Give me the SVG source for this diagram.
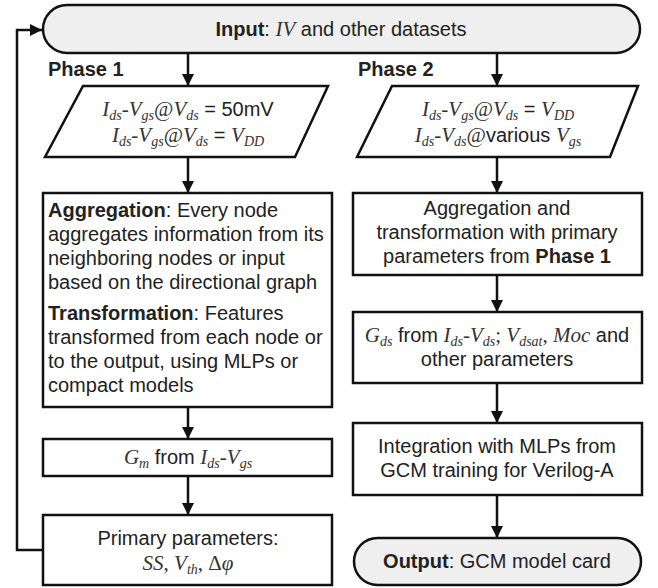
<svg xmlns="http://www.w3.org/2000/svg" width="658" height="588" viewBox="0 0 658 588">
<style>
.box{fill:#fff;stroke:#111;stroke-width:2.5}
.pill{fill:#efefef;stroke:#111;stroke-width:2.5}
.t{font-family:"Liberation Sans",Arial,sans-serif;font-size:20px;fill:#222}
.b{font-weight:bold}
.m{font-family:"Liberation Serif","Times New Roman",serif;font-style:italic;font-size:21px;fill:#333}
.r{font-family:"Liberation Serif","Times New Roman",serif;font-size:21px;fill:#333}
.s{font-family:"Liberation Serif","Times New Roman",serif;font-style:italic;font-size:14px;fill:#333}
.c{text-anchor:middle}
.line{fill:none;stroke:#111;stroke-width:2.5}
</style>
<defs>
<marker id="ah" viewBox="0 0 10 10" refX="10" refY="5" markerWidth="5" markerHeight="5" orient="auto" markerUnits="strokeWidth">
<path d="M0,0 L10,5 L0,10 z" fill="#111"/>
</marker>
</defs>

<g id="connectors">
<line class="line" x1="188" y1="53" x2="188" y2="86" marker-end="url(#ah)"/>
<line class="line" x1="497" y1="53" x2="497" y2="86" marker-end="url(#ah)"/>
<line class="line" x1="188" y1="157" x2="188" y2="193" marker-end="url(#ah)"/>
<line class="line" x1="497" y1="157" x2="497" y2="193" marker-end="url(#ah)"/>
<line class="line" x1="188" y1="407" x2="188" y2="439" marker-end="url(#ah)"/>
<line class="line" x1="188" y1="476" x2="188" y2="515" marker-end="url(#ah)"/>
<line class="line" x1="497" y1="275" x2="497" y2="312" marker-end="url(#ah)"/>
<line class="line" x1="497" y1="383" x2="497" y2="423" marker-end="url(#ah)"/>
<line class="line" x1="497" y1="495" x2="497" y2="538" marker-end="url(#ah)"/>
<polyline class="line" points="43,550 17,550 17,30 42,30" marker-end="url(#ah)"/>
</g>

<g id="input">
<rect class="pill" x="43" y="5" width="597" height="48" rx="24" ry="24"/>
<text class="t c" x="341" y="36"><tspan class="b">Input</tspan>: <tspan class="m">IV</tspan> and other datasets</text>
</g>

<g id="phase-labels">
<text class="t b" x="48" y="76">Phase 1</text>
<text class="t b" x="358" y="76">Phase 2</text>
</g>

<g id="p1-data">
<polygon class="box" points="83,86 328,86 295,157 45,157"/>
<text class="t c" x="188" y="116"><tspan class="m">I</tspan><tspan class="s" dy="4">ds</tspan><tspan class="r" dy="-4">-</tspan><tspan class="m">V</tspan><tspan class="s" dy="4">gs</tspan><tspan class="r" dy="-4">@</tspan><tspan class="m">V</tspan><tspan class="s" dy="4">ds</tspan><tspan dy="-4"> = 50mV</tspan></text>
<text class="t c" x="188" y="142"><tspan class="m">I</tspan><tspan class="s" dy="4">ds</tspan><tspan class="r" dy="-4">-</tspan><tspan class="m">V</tspan><tspan class="s" dy="4">gs</tspan><tspan class="r" dy="-4">@</tspan><tspan class="m">V</tspan><tspan class="s" dy="4">ds</tspan><tspan dy="-4"> = </tspan><tspan class="m">V</tspan><tspan class="s" dy="4">DD</tspan></text>
</g>

<g id="p2-data">
<polygon class="box" points="392,86 638,86 610,157 357,157"/>
<text class="t c" x="498" y="116"><tspan class="m">I</tspan><tspan class="s" dy="4">ds</tspan><tspan class="r" dy="-4">-</tspan><tspan class="m">V</tspan><tspan class="s" dy="4">gs</tspan><tspan class="r" dy="-4">@</tspan><tspan class="m">V</tspan><tspan class="s" dy="4">ds</tspan><tspan dy="-4"> = </tspan><tspan class="m">V</tspan><tspan class="s" dy="4">DD</tspan></text>
<text class="t c" x="498" y="142"><tspan class="m">I</tspan><tspan class="s" dy="4">ds</tspan><tspan class="r" dy="-4">-</tspan><tspan class="m">V</tspan><tspan class="s" dy="4">ds</tspan><tspan class="r" dy="-4">@</tspan><tspan>various </tspan><tspan class="m">V</tspan><tspan class="s" dy="4">gs</tspan></text>
</g>

<g id="p1-agg">
<rect class="box" x="43" y="193" width="289" height="214"/>
<text class="t" x="48" y="217"><tspan class="b">Aggregation</tspan>: Every node</text>
<text class="t" x="48" y="241">aggregates information from its</text>
<text class="t" x="48" y="265">neighboring nodes or input</text>
<text class="t" x="48" y="289">based on the directional graph</text>
<text class="t" x="48" y="320"><tspan class="b">Transformation</tspan>: Features</text>
<text class="t" x="48" y="344">transformed from each node or</text>
<text class="t" x="48" y="368">to the output, using MLPs or</text>
<text class="t" x="48" y="392">compact models</text>
</g>

<g id="p1-gm">
<rect class="box" x="43" y="439" width="289" height="37"/>
<text class="t c" x="188" y="464"><tspan class="m">G</tspan><tspan class="s" dy="4">m</tspan><tspan dy="-4"> from </tspan><tspan class="m">I</tspan><tspan class="s" dy="4">ds</tspan><tspan class="r" dy="-4">-</tspan><tspan class="m">V</tspan><tspan class="s" dy="4">gs</tspan></text>
</g>

<g id="p1-primary">
<rect class="box" x="43" y="515" width="289" height="70"/>
<text class="t c" x="188" y="545">Primary parameters:</text>
<text class="t c" x="188" y="570"><tspan class="m">SS</tspan><tspan class="r">, </tspan><tspan class="m">V</tspan><tspan class="s" dy="4">th</tspan><tspan class="r" dy="-4">, Δ</tspan><tspan class="m">φ</tspan></text>
</g>

<g id="p2-agg">
<rect class="box" x="353" y="193" width="289" height="82"/>
<text class="t c" x="497" y="215">Aggregation and</text>
<text class="t c" x="497" y="239">transformation with primary</text>
<text class="t c" x="497" y="263">parameters from <tspan class="b">Phase 1</tspan></text>
</g>

<g id="p2-gds">
<rect class="box" x="353" y="312" width="289" height="71"/>
<text class="t c" x="497" y="342"><tspan class="m">G</tspan><tspan class="s" dy="4">ds</tspan><tspan dy="-4"> from </tspan><tspan class="m">I</tspan><tspan class="s" dy="4">ds</tspan><tspan class="r" dy="-4">-</tspan><tspan class="m">V</tspan><tspan class="s" dy="4">ds</tspan><tspan class="r" dy="-4">; </tspan><tspan class="m">V</tspan><tspan class="s" dy="4">dsat</tspan><tspan class="r" dy="-4">, </tspan><tspan class="m">Moc</tspan><tspan> and</tspan></text>
<text class="t c" x="497" y="366">other parameters</text>
</g>

<g id="p2-integration">
<rect class="box" x="353" y="423" width="289" height="72"/>
<text class="t c" x="497" y="453">Integration with MLPs from</text>
<text class="t c" x="497" y="477">GCM training for Verilog-A</text>
</g>

<g id="output">
<rect class="pill" x="354" y="538" width="287" height="47" rx="23.5" ry="23.5"/>
<text class="t c" x="497" y="568"><tspan class="b">Output</tspan>: GCM model card</text>
</g>
</svg>
